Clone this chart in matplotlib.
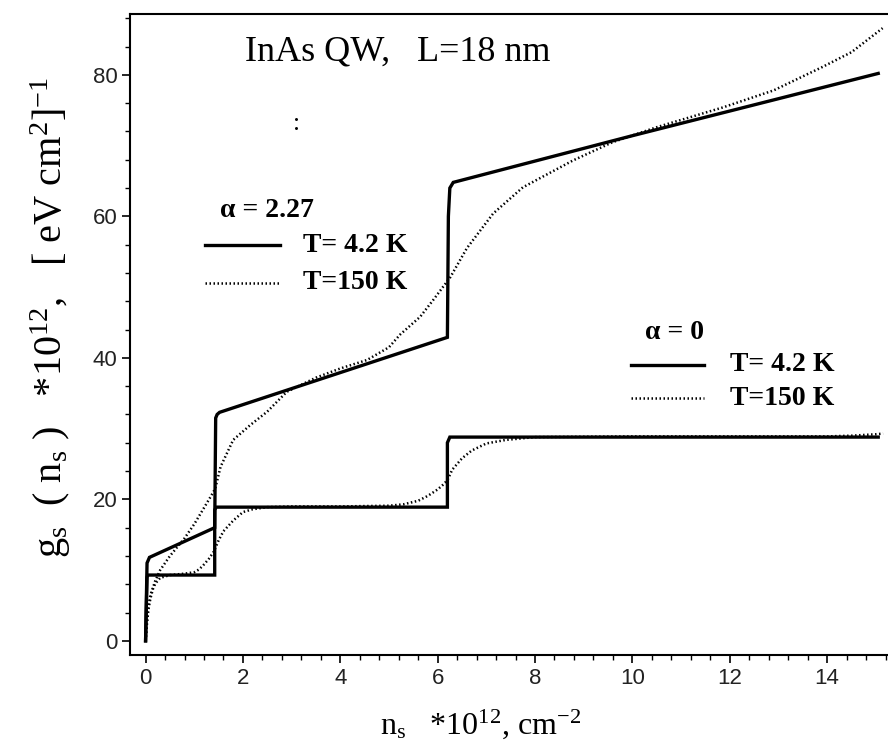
import numpy as np
import matplotlib
matplotlib.use("Agg")
import matplotlib.pyplot as plt
from matplotlib.ticker import MultipleLocator

# density of states g_s(n_s), InAs QW, L=18 nm
# alpha = 2.27, T = 4.2 K
a227_cold_x = [0.0, 0.03, 0.08, 1.42, 1.44, 1.47, 1.52, 6.2, 6.22, 6.25, 6.32, 10.0, 15.05]
a227_cold_y = [0.0, 11.0, 11.8, 16.0, 31.5, 32.0, 32.3, 42.9, 60.0, 64.0, 64.8, 71.4, 80.2]
# alpha = 2.27, T = 150 K
a227_hot_x = [0.0, 0.03, 0.06, 0.1, 0.2, 0.3, 0.5, 0.8, 1.0, 1.2, 1.33, 1.43, 1.54, 1.8,
              2.15, 2.5, 2.9, 3.5, 4.0, 4.55, 5.0, 5.23, 5.64, 5.9, 6.26, 6.6, 7.14, 7.75,
              8.78, 9.6, 10.5, 11.86, 12.9, 13.9, 14.5, 15.14]
a227_hot_y = [0.0, 3.0, 5.0, 6.5, 8.5, 10.0, 12.0, 14.5, 16.5, 18.8, 20.3, 21.5, 24.6, 28.4,
              30.5, 32.4, 35.2, 37.2, 38.5, 39.7, 41.5, 43.3, 45.8, 48.1, 51.4, 55.5, 60.4, 64.1,
              67.9, 70.5, 72.6, 75.4, 77.8, 81.1, 83.2, 86.6]
# alpha = 0, T = 4.2 K
a0_cold_x = [0.0, 0.03, 0.05, 1.42, 1.42, 1.45, 6.2, 6.2, 6.25, 15.05]
a0_cold_y = [0.0, 9.0, 9.3, 9.3, 18.5, 18.9, 18.9, 28.0, 28.8, 28.8]
# alpha = 0, T = 150 K
a0_hot_x = [0.0, 0.03, 0.06, 0.1, 0.15, 0.2, 0.3, 0.5, 0.8, 1.0, 1.1, 1.2, 1.3, 1.4, 1.5,
            1.6, 1.8, 2.0, 2.2, 2.5, 3.0, 4.0, 5.0, 5.3, 5.6, 5.8, 6.0, 6.1, 6.2, 6.3, 6.5,
            6.7, 7.0, 7.4, 8.0, 10.0, 12.0, 14.0, 14.5, 15.0, 15.15]
a0_hot_y = [0.0, 2.5, 4.5, 6.0, 7.3, 8.1, 8.9, 9.3, 9.5, 9.7, 10.1, 10.8, 11.6, 12.6, 14.2,
            15.5, 17.0, 18.2, 18.6, 18.9, 19.0, 19.0, 19.1, 19.3, 19.8, 20.5, 21.4, 22.0, 22.7,
            24.2, 25.8, 26.9, 27.9, 28.4, 28.8, 28.9, 28.9, 28.9, 29.0, 29.2, 29.3]

plt.rcParams['mathtext.fontset'] = 'custom'
plt.rcParams['mathtext.rm'] = 'Liberation Serif'
plt.rcParams['mathtext.it'] = 'Liberation Serif:italic'
plt.rcParams['mathtext.bf'] = 'Liberation Serif:bold'
serif = ['Liberation Serif', 'DejaVu Serif']
narrow = ['Liberation Sans Narrow', 'Liberation Sans', 'DejaVu Sans']

fig = plt.figure(figsize=(8.88, 7.49), dpi=100)
ax = fig.add_axes([0.1464, 0.1255, 0.853, 0.8558])

solid = dict(color='black', lw=2.4, solid_joinstyle='miter')
dotted = dict(color='black', lw=1.8, linestyle=(0, (0.6, 1.0)))

ax.plot(a227_cold_x, a227_cold_y, **solid)
ax.plot(a227_hot_x, a227_hot_y, **dotted)
ax.plot(a0_cold_x, a0_cold_y, **solid)
ax.plot(a0_hot_x, a0_hot_y, **dotted)

ax.set_xlim(-0.32, 15.24)
ax.set_ylim(-2.0, 88.6)
ax.xaxis.set_major_locator(MultipleLocator(2))
ax.xaxis.set_minor_locator(MultipleLocator(0.4))
ax.yaxis.set_major_locator(MultipleLocator(20))
ax.yaxis.set_minor_locator(MultipleLocator(4))
ax.tick_params(which='major', length=6, width=1.2, direction='out', pad=3)
ax.tick_params(which='minor', length=3.5, width=1.0, direction='out')
for lab in ax.get_xticklabels() + ax.get_yticklabels():
    lab.set_family(narrow)
    lab.set_fontsize(16)
    lab.set_color('#222222')

ax.spines['right'].set_visible(False)
for s in ['left', 'bottom', 'top']:
    ax.spines[s].set_linewidth(1.5)

ax.set_xlabel(r'n$_\mathrm{s}$   *10$^{12}$, cm$^{-2}$', family=serif, fontsize=23,
              labelpad=14, x=0.463)
ax.set_ylabel(r'g$_\mathrm{s}$  ( n$_\mathrm{s}$ )   *10$^{12}$,   [ eV cm$^2$]$^{-1}$',
              family=serif, fontsize=29, labelpad=14, y=0.526)

# annotations
ax.text(2.04, 83.3, 'InAs QW,   L=18 nm', family=serif, fontsize=26, ha='left', va='center')
ax.text(3.1, 73.0, ':', family=serif, fontsize=18, ha='center', va='center')

bold = dict(family=serif, fontsize=20, fontweight='bold', va='center')
# left legend (alpha = 2.27)
ax.text(1.53, 60.8, 'α = 2.27', **bold)
ax.plot([1.22, 2.76], [55.9, 55.9], **solid)
ax.text(3.23, 55.9, 'T= 4.2 K', **bold)
ax.plot([1.22, 2.76], [50.6, 50.6], **dotted)
ax.text(3.23, 50.6, 'T=150 K', **bold)
# right legend (alpha = 0)
ax.text(10.25, 43.6, 'α = 0', **bold)
ax.plot([9.98, 11.48], [39.0, 39.0], **solid)
ax.text(12.0, 39.0, 'T= 4.2 K', **bold)
ax.plot([9.98, 11.48], [34.3, 34.3], **dotted)
ax.text(12.0, 34.3, 'T=150 K', **bold)

fig.savefig('out.png', dpi=100)
